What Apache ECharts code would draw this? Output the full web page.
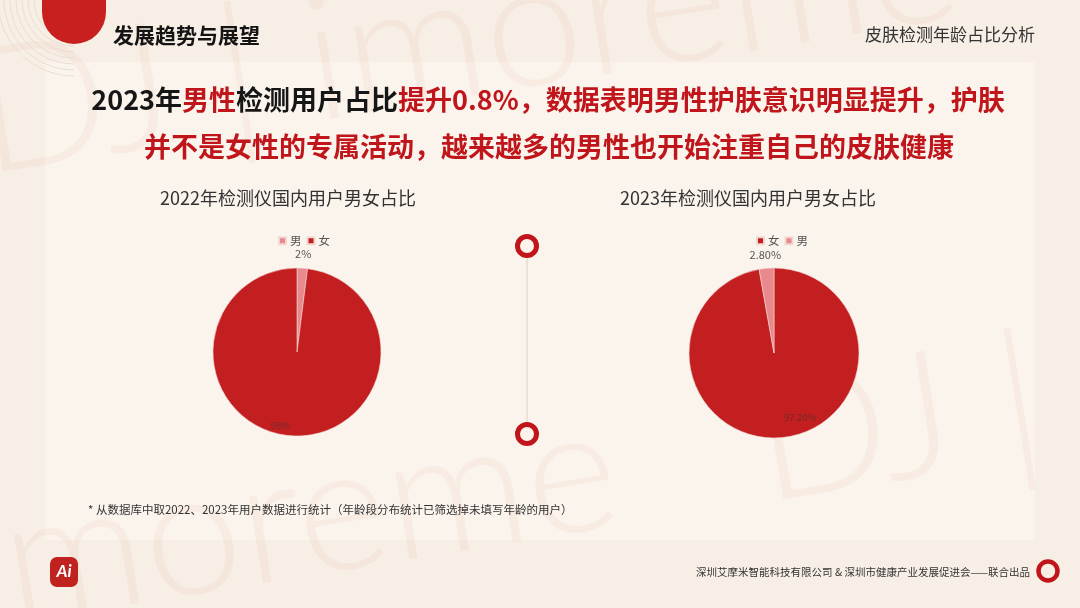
<!DOCTYPE html>
<html><head><meta charset="utf-8">
<script src="https://cdn.jsdelivr.net/npm/echarts@6/dist/echarts.min.js"></script>
<style>html,body{margin:0;padding:0;background:#F7EFE5;}#c{width:1080px;height:608px;}</style>
</head><body><div id="c"></div>
<script>
// ---- data ----
const categories2022 = ['男', '女'];
const values2022 = [2, 98];
const categories2023 = ['女', '男'];
const values2023 = [97.2, 2.8];
const chartTitles = ['2022年检测仪国内用户男女占比', '2023年检测仪国内用户男女占比'];
const legend2022 = ['男', '女'];
const legend2023 = ['女', '男'];

const colorMap = { '男': '#E88A8D', '女': '#C41F20' };
const RED = '#C0161B';
const CJK = '"Noto Sans CJK SC", "Noto Sans", sans-serif';

const chart = echarts.init(document.getElementById('c'), null, { renderer: 'canvas' });

function mainPie(cats, vals, center, radius) {
  return {
    type: 'pie', center: center, radius: radius, startAngle: 90, clockwise: true,
    silent: true, animation: false,
    data: cats.map((c, i) => ({ name: c, value: vals[i], itemStyle: { color: colorMap[c] } })),
    label: { show: false }, labelLine: { show: false },
    itemStyle: { borderColor: '#F2D6D2', borderWidth: 0.6 },
    emphasis: { disabled: true }
  };
}
function labelRing(cats, vals, center, radius, startAngle, showName, fmt, style) {
  return {
    type: 'pie', center: center, radius: radius, startAngle: startAngle, clockwise: true,
    silent: true, animation: false, legendHoverLink: false,
    data: cats.map((c, i) => ({ name: c, value: vals[i],
      itemStyle: { color: 'rgba(0,0,0,0)', borderWidth: 0 },
      label: { show: c === showName } })),
    label: Object.assign({ position: 'inside', formatter: fmt, fontFamily: CJK }, style),
    labelLine: { show: false },
    emphasis: { disabled: true }
  };
}
const fmt2022 = p => p.value + '%';
const fmt2023 = p => Number(p.value).toFixed(2) + '%';
const outerStyle = { color: '#555', fontSize: 11 };
const innerStyle = { color: '#6E2B2A', fontSize: 9.5 };

const c1 = [297, 352], c2 = [774, 353];

const legendCommon = {
  icon: 'rect', itemWidth: 7, itemHeight: 7, itemGap: 5, selectedMode: false,
  textStyle: { fontSize: 11.5, color: '#555', fontFamily: CJK, padding: [0, 0, 0, -1] }
};

const WM = 'rgba(226,140,118,0.09)';
const graphics = [
  // light content panel
  { type: 'rect', z: -10, shape: { x: 45, y: 62, width: 990, height: 478 }, style: { fill: '#FAF4ED' } },
  // watermark
  { type: 'text', z: -5, x: -10, y: 205, rotation: 0.16,
    style: { text: 'DJ | imoreme', fontSize: 175, fontFamily: 'Lato', fontWeight: 300, fill: WM, align: 'left', verticalAlign: 'bottom' } },
  { type: 'text', z: -5, x: -20, y: 660, rotation: 0.16,
    style: { text: 'imoreme   DJ | imoreme', fontSize: 175, fontFamily: 'Lato', fontWeight: 300, fill: WM, align: 'left', verticalAlign: 'bottom' } },
  // header decoration arcs
  ...[40, 46, 52, 58, 64, 70, 76].map(r => ({ type: 'arc', z: -4, shape: { cx: 74, cy: 0, r: r, startAngle: Math.PI / 2, endAngle: Math.PI }, style: { stroke: '#E4D9CC', lineWidth: 0.8, fill: null } })),
  // header red shape
  { type: 'rect', shape: { x: 42, y: -40, width: 64, height: 84, r: 32 }, style: { fill: '#C8201E' } },
  { type: 'text', x: 113, y: 35, style: { text: '发展趋势与展望', fontSize: 21, fontWeight: 'bold', fontFamily: CJK, fill: '#141414', align: 'left', verticalAlign: 'middle' } },
  { type: 'text', x: 1035, y: 35, style: { text: '皮肤检测年龄占比分析', fontSize: 17, fontFamily: CJK, fill: '#333', align: 'right', verticalAlign: 'middle' } },
  // headline
  { type: 'text', x: 548, y: 100, style: {
      text: '{k|2023年}{r|男性}{k|检测用户占比}{r|提升0.8%，数据表明男性护肤意识明显提升，护肤}',
      fontSize: 27, fontWeight: 'bold', fontFamily: CJK, align: 'center', verticalAlign: 'middle',
      rich: { k: { fill: '#161616', fontSize: 27, fontWeight: 'bold', fontFamily: CJK }, r: { fill: RED, fontSize: 27, fontWeight: 'bold', fontFamily: CJK } } } },
  { type: 'text', x: 549, y: 147, style: {
      text: '并不是女性的专属活动，越来越多的男性也开始注重自己的皮肤健康',
      fontSize: 27, fontWeight: 'bold', fontFamily: CJK, fill: RED, align: 'center', verticalAlign: 'middle' } },
  // chart titles
  { type: 'text', x: 288, y: 198, style: { text: chartTitles[0], fontSize: 18, fontFamily: CJK, fill: '#333', align: 'center', verticalAlign: 'middle' } },
  { type: 'text', x: 748, y: 198, style: { text: chartTitles[1], fontSize: 18, fontFamily: CJK, fill: '#333', align: 'center', verticalAlign: 'middle' } },
  // middle divider
  { type: 'line', shape: { x1: 527, y1: 258, x2: 527, y2: 423 }, style: { stroke: '#ECE2D8', lineWidth: 2 } },
  { type: 'circle', shape: { cx: 527, cy: 246, r: 9.5 }, style: { fill: '#FAF4ED', stroke: '#C0161B', lineWidth: 5 } },
  { type: 'circle', shape: { cx: 527, cy: 434, r: 9.5 }, style: { fill: '#FAF4ED', stroke: '#C0161B', lineWidth: 5 } },
  // footnote
  { type: 'text', x: 88, y: 510, style: { text: '* 从数据库中取2022、2023年用户数据进行统计（年龄段分布统计已筛选掉未填写年龄的用户）', fontSize: 11.5, fontFamily: CJK, fill: '#333', align: 'left', verticalAlign: 'middle' } },
  // footer
  { type: 'text', x: 1030, y: 572, style: { text: '深圳艾摩米智能科技有限公司 & 深圳市健康产业发展促进会——联合出品', fontSize: 10.5, fontFamily: CJK, fill: '#333', align: 'right', verticalAlign: 'middle' } },
  { type: 'circle', shape: { cx: 1048, cy: 571, r: 9.5 }, style: { fill: 'none', stroke: '#C0161B', lineWidth: 4.5 } },
  { type: 'rect', shape: { x: 50, y: 557, width: 28, height: 30, r: 7 }, style: { fill: '#C0221F' } },
  { type: 'text', x: 64, y: 572, style: { text: 'Ai', fontSize: 17, fontWeight: 'bold', fontStyle: 'italic', fontFamily: 'Lato', fill: '#fff', align: 'center', verticalAlign: 'middle' } }
];

const option = {
  backgroundColor: '#F7EFE5',
  animation: false,
  legend: [
    Object.assign({ data: legend2022, left: 273, top: 230 }, legendCommon),
    Object.assign({ data: legend2023, left: 751, top: 230 }, legendCommon)
  ],
  graphic: { elements: graphics },
  series: [
    mainPie(categories2022, values2022, c1, 84),
    mainPie(categories2023, values2023, c2, 85),
    labelRing(categories2022, values2022, c1, [84, 106], 90, '男', fmt2022, outerStyle),
    labelRing(categories2022, values2022, c1, [61, 84], 80.9, '女', fmt2022, innerStyle),
    labelRing(categories2023, values2023, c2, [85, 107], 90, '男', fmt2023, outerStyle),
    labelRing(categories2023, values2023, c2, [55, 79], 107, '女', fmt2023, innerStyle)
  ]
};
chart.setOption(option);
</script>
</body></html>
